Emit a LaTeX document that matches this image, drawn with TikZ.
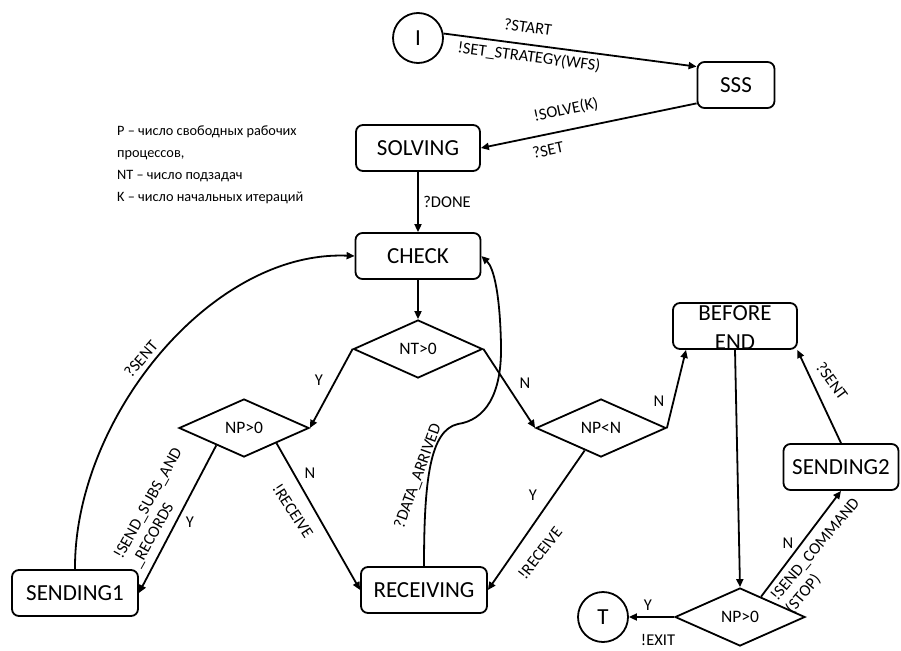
\documentclass[tikz,border=0pt]{standalone}
\usepackage{fontspec}
\setmainfont{Carlito}
\usetikzlibrary{arrows.meta,shapes.geometric}

\begin{document}
\begin{tikzpicture}[x=1pt,y=-1pt,
  every node/.style={inner sep=0pt},
  statebox/.style={draw,rounded corners=7pt,line width=1.8pt,
    font=\fontsize{23}{27}\selectfont,minimum height=46pt},
  cond/.style={draw,diamond,line width=1.8pt,
    font=\fontsize{17.5}{20}\selectfont,minimum width=130pt,minimum height=58pt},
  term/.style={draw,circle,line width=1.8pt,
    font=\fontsize{23}{27}\selectfont,minimum size=50pt},
  flow/.style={line width=1.8pt,-{Triangle[length=8pt,width=7pt]}},
  lbl/.style={font=\fontsize{16.5}{19.5}\selectfont},
]
\useasboundingbox (0,0) rectangle (901,650);

% states
\node[term] (I) at (418,38) {I};
\node[statebox,minimum width=77pt] (sss) at (736,85) {SSS};
\node[statebox,minimum width=124pt] (solving) at (418,148) {SOLVING};
\node[statebox,minimum width=125pt] (check) at (418,256) {CHECK};
\node[cond,minimum width=129pt] (nt) at (418,349) {NT>0};
\node[cond] (npl) at (244,428) {NP>0};
\node[cond] (npn) at (601,428) {NP<N};
\node[statebox,minimum width=126pt] (s1) at (75,593) {SENDING1};
\node[statebox,minimum width=126pt] (rec) at (424,590) {RECEIVING};
\node[statebox,minimum width=124pt] (be) at (735,326) {};
\node[font=\fontsize{23}{27}\selectfont,align=center] (beText) at (735,327.5) {BEFORE\\[2pt]END};
\node[statebox,minimum width=115pt] (s2) at (841,467) {SENDING2};
\node[cond] (npr) at (740,617) {NP>0};
\node[term] (T) at (603,617) {T};

% legend
\node[align=left,anchor=north west,font=\fontsize{14.3}{22}\selectfont] (legend) at (117,126)
  {P – число свободных рабочих\\процессов,\\NT – число подзадач\\K – число начальных итераций};

% transitions
\draw[flow] (I.10) -- (sss.155);
\draw[flow] (sss.205) -- (solving.east);
\draw[flow] (solving) -- (check);
\draw[flow] (check) -- (nt);
\draw[flow] (nt.west) -- (npl.east);
\draw[flow] (nt.east) -- (npn.west);
\draw[flow] (npn.east) -- (be.206);
\draw[flow] (be.south) -- (npr.north);
\draw[flow] (npr.west) -- (T);
\draw[flow] (npr.44) -- (s2.south);
\draw[flow] (s2.north) -- (be.-21);
\draw[flow] (npl.212) -- (s1.east);
\draw[flow] (npl.-25) -- (rec.west);
\draw[flow] (npn.234) -- (rec.east);
\draw[flow] (rec.north) .. controls (424,480) and (430,430) .. (458,424)
  .. controls (485,420) and (502,395) .. (501,345)
  .. controls (500,295) and (494,268) .. (check.east);
\draw[flow] (s1.north) .. controls (74,420) and (210,250) .. (check.west);

% transition labels
\node[lbl,rotate=-7.5] (lStart) at (528,27) {?START};
\node[lbl,rotate=-7.5] (lSetStr) at (529,57) {!SET\_STRATEGY(WFS)};
\node[lbl,rotate=11.6] (lSolve) at (566,110) {!SOLVE(K)};
\node[lbl,rotate=11.6] (lSet) at (548,150) {?SET};
\node[lbl] (lDone) at (447,202) {?DONE};
\node[lbl] (lY1) at (319,380) {Y};
\node[lbl] (lN1) at (525,383) {N};
\node[lbl] (lN2) at (659,401) {N};
\node[lbl] (lY2) at (190,522) {Y};
\node[lbl,rotate=61,align=left] (lSendSubs) at (157,508) {!SEND\_SUBS\_AND\\\_RECORDS};
\node[lbl,rotate=49] (lSent1) at (141,359) {?SENT};
\node[lbl] (lN3) at (310,473) {N};
\node[lbl,rotate=-57] (lRecv1) at (293,511) {!RECEIVE};
\node[lbl,rotate=70] (lData) at (418,476) {?DATA\_ARRIVED};
\node[lbl] (lY3) at (533,495) {Y};
\node[lbl,rotate=52] (lRecv2) at (540,553) {!RECEIVE};
\node[lbl] (lY4) at (648,605) {Y};
\node[lbl] (lExit) at (658,640) {!EXIT};
\node[lbl,rotate=-53.5] (lSent2) at (832,381) {?SENT};
\node[lbl] (lN4) at (788,543) {N};
\node[lbl,rotate=50,align=left] (lSendCmd) at (823,556) {!SEND\_COMMAND\\(STOP)};
\end{tikzpicture}
\end{document}
